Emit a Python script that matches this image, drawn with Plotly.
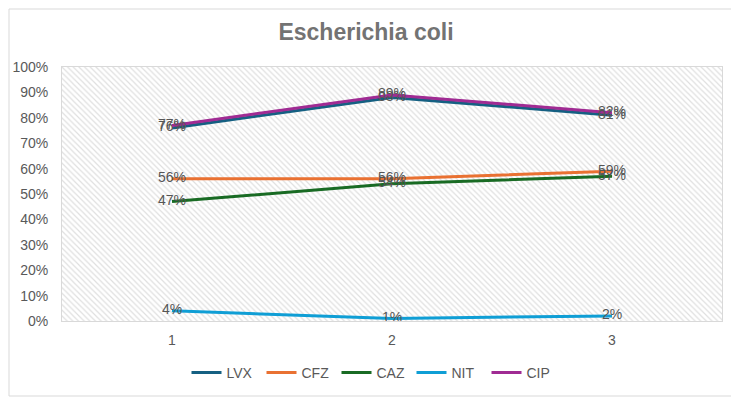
import plotly.graph_objects as go

categories = [1, 2, 3]
lvx = [0.76, 0.88, 0.81]
cfz = [0.56, 0.56, 0.59]
caz = [0.47, 0.54, 0.57]
nit = [0.04, 0.01, 0.02]
cip = [0.77, 0.89, 0.82]

series = [
    ("LVX", lvx, "#156082"),
    ("CFZ", cfz, "#E97132"),
    ("CAZ", caz, "#196B24"),
    ("NIT", nit, "#0F9ED5"),
    ("CIP", cip, "#A02B93"),
]

FONT = "Liberation Sans, Arial, sans-serif"
GRAY = "#595959"

fig = go.Figure()

# hatched plot-area background
fig.add_trace(go.Bar(
    x=[sum(categories) / len(categories)], y=[1.0], width=[len(categories)],
    marker=dict(color="rgba(0,0,0,0)", line=dict(width=0),
                pattern=dict(shape="\\", fgcolor="#c0c0c0", bgcolor="white",
                             size=4, solidity=0.3)),
    showlegend=False, hoverinfo="skip",
))

for name, vals, color in series:
    fig.add_trace(go.Scatter(
        x=categories, y=vals, name=name, mode="lines+text",
        line=dict(color=color, width=3),
        text=[f"{round(v*100)}%" for v in vals],
        textposition="middle center",
        textfont=dict(family=FONT, size=14, color="#555555"),
    ))

W, H = 731, 390
L, R, T, B = 54, 17, 59, 77
PW, PH = W - L - R, H - T - B

fig.update_layout(
    width=W, height=H,
    margin=dict(l=L, r=R, t=T, b=B, autoexpand=False),
    paper_bgcolor="white", plot_bgcolor="white",
    title=dict(text="<b>Escherichia coli</b>", x=(369 - 8 - 3) / W, xanchor="center",
               y=1 - 24 / H, yanchor="middle",
               font=dict(family=FONT, size=23, color="#737373")),
    font=dict(family=FONT, size=14, color=GRAY),
    legend=dict(orientation="h", x=(374 - 8 - L) / PW, xanchor="center",
                yref="container", y=25 / H, yanchor="middle",
                entrywidth=30, entrywidthmode="pixels", itemwidth=30,
                font=dict(family=FONT, size=14, color=GRAY)),
    bargap=0,
    shapes=[dict(type="rect", xref="paper", yref="paper",
                 x0=-(L - 1) / PW, x1=1 + (R - 2) / PW,
                 y0=-(B - 2) / PH, y1=1 + (T - 1) / PH,
                 line=dict(color="#d9d9d9", width=1), layer="below")],
)
fig.update_xaxes(range=[0.5, 3.5], tickvals=categories,
                 ticktext=[str(c) for c in categories],
                 showgrid=True, gridcolor="#d9d9d9", zeroline=False,
                 showline=True, linecolor="#d9d9d9", mirror=True, automargin=False,
                 ticks="outside", ticklen=6, tickcolor="rgba(0,0,0,0)",
                 tickfont=dict(size=14, color=GRAY))
fig.update_yaxes(range=[0, 1], dtick=0.1, tickformat=".0%",
                 showgrid=True, gridcolor="#d9d9d9", zeroline=False,
                 showline=True, linecolor="#d9d9d9", mirror=True, automargin=False,
                 ticks="outside", ticklen=10, tickcolor="rgba(0,0,0,0)",
                 tickfont=dict(size=14, color=GRAY))

fig.write_html("out.html")
